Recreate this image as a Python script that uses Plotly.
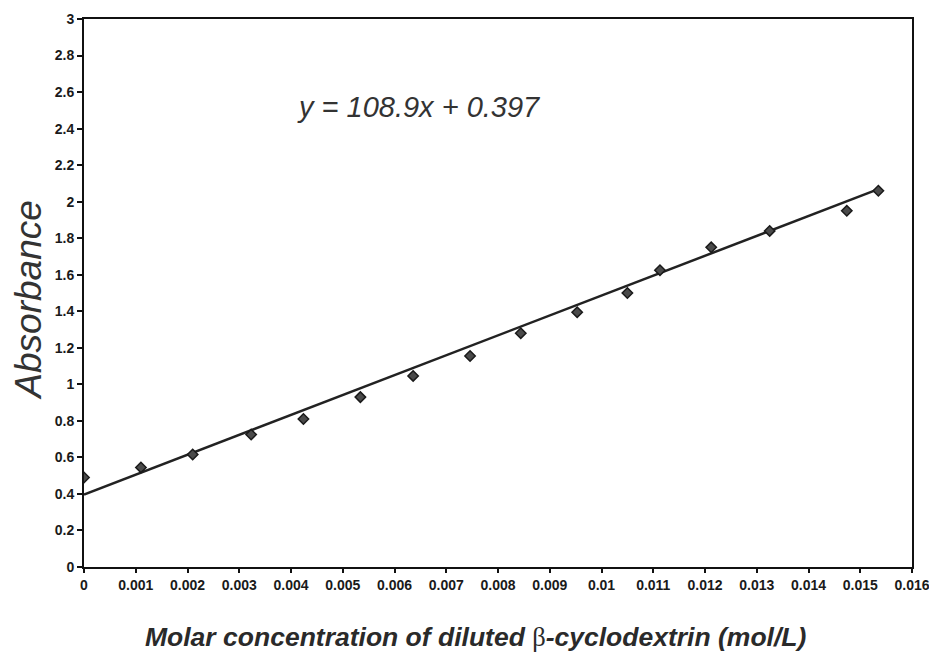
import plotly.graph_objects as go

# Data
conc = [0.0, 0.0011, 0.0021, 0.00323, 0.00424, 0.00534, 0.00636, 0.00746,
        0.00844, 0.00953, 0.0105, 0.01113, 0.01212, 0.01325, 0.01474, 0.01535]
absorb = [0.49, 0.545, 0.616, 0.725, 0.81, 0.93, 1.046, 1.155,
          1.28, 1.395, 1.50, 1.625, 1.75, 1.84, 1.95, 2.06]
slope = 108.9
intercept = 0.397

x_tickvals = [0, 0.001, 0.002, 0.003, 0.004, 0.005, 0.006, 0.007, 0.008,
              0.009, 0.01, 0.011, 0.012, 0.013, 0.014, 0.015, 0.016]
x_ticktext = ["0", "0.001", "0.002", "0.003", "0.004", "0.005", "0.006", "0.007",
              "0.008", "0.009", "0.01", "0.011", "0.012", "0.013", "0.014", "0.015", "0.016"]
y_tickvals = [0, 0.2, 0.4, 0.6, 0.8, 1, 1.2, 1.4, 1.6, 1.8, 2, 2.2, 2.4, 2.6, 2.8, 3]
y_ticktext = ["0", "0.2", "0.4", "0.6", "0.8", "1", "1.2", "1.4", "1.6", "1.8",
              "2", "2.2", "2.4", "2.6", "2.8", "3"]

line_x = [min(conc), max(conc)]
line_y = [slope * v + intercept for v in line_x]

fig = go.Figure()
fig.add_trace(go.Scatter(x=line_x, y=line_y, mode="lines",
                         line=dict(color="#222222", width=2.5), showlegend=False))
fig.add_trace(go.Scatter(x=conc, y=absorb, mode="markers",
                         marker=dict(symbol="diamond", size=8, color="#4a4a4a",
                                     line=dict(color="#1a1a1a", width=1.5)),
                         showlegend=False))

tick_font = dict(family="Liberation Sans, Arial", size=14, color="#1a1a1a",
                 weight="bold")

fig.update_xaxes(range=[0, 0.016], tickvals=x_tickvals, ticktext=x_ticktext,
                 showgrid=False, zeroline=False, showline=True, linecolor="#111111",
                 linewidth=2, mirror=True, ticks="outside", ticklen=4,
                 tickcolor="#111111", tickwidth=1.5, tickfont=tick_font,
                 automargin=False, ticklabeloverflow="allow")
fig.update_yaxes(range=[0, 3], tickvals=y_tickvals, ticktext=y_ticktext,
                 showgrid=False, zeroline=False, showline=True, linecolor="#111111",
                 linewidth=2, mirror=True, ticks="outside", ticklen=5,
                 tickcolor="#111111", tickwidth=1.5, tickfont=tick_font,
                 automargin=False)

fig.update_layout(
    width=929, height=647,
    margin=dict(l=76, r=25, t=11, b=88, autoexpand=False),
    paper_bgcolor="white", plot_bgcolor="white",
    annotations=[
        dict(text="<i>Absorbance</i>", xref="paper", yref="paper",
             x=-0.067, y=0.487, textangle=-90, showarrow=False,
             font=dict(family="Liberation Sans, Arial", size=37, color="#333333"),
             xanchor="center", yanchor="middle"),
        dict(text="<b><i>Molar concentration of diluted </i></b>"
                  "<span style='font-family:Liberation Serif;font-weight:normal'>β</span>"
                  "<b><i>-cyclodextrin (mol/L)</i></b>",
             xref="paper", yref="paper", x=0.473, y=-0.128, showarrow=False,
             font=dict(family="Liberation Sans, Arial", size=26.5, color="#2a2a2a"),
             xanchor="center", yanchor="middle"),
        dict(text="<i>y = 108.9x + 0.397</i>", xref="paper", yref="paper",
             x=0.404, y=0.839, showarrow=False,
             font=dict(family="Liberation Sans, Arial", size=29, color="#333333"),
             xanchor="center", yanchor="middle"),
    ],
)

fig.write_html("out.html")
